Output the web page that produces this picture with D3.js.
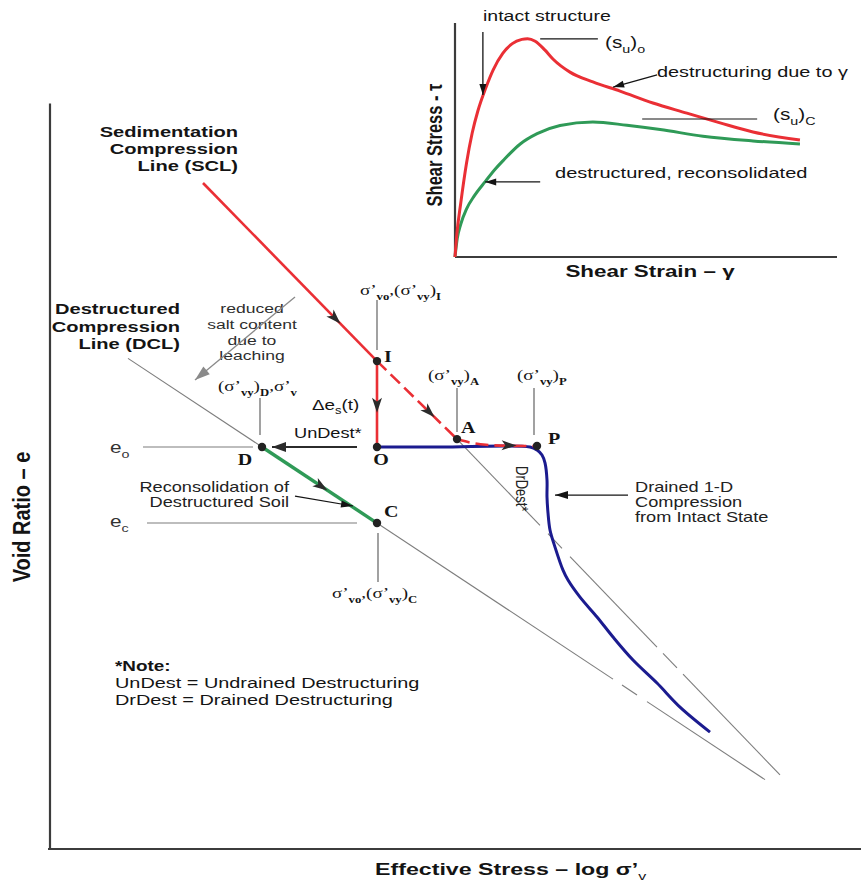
<!DOCTYPE html>
<html>
<head>
<meta charset="utf-8">
<script src="https://cdn.jsdelivr.net/npm/d3@7"></script>
<style>
  html, body { margin: 0; padding: 0; background: #fff; }
  svg { display: block; }
</style>
</head>
<body>
<svg id="chart" width="861" height="882"></svg>
<script>
// ---------- e – log σ'v diagram (x: log10 σ'v, y: void ratio e) ----------
const keyPoints = [
  { id: "I", s: 1.635, e: 1.970 },
  { id: "O", s: 1.635, e: 1.623 },
  { id: "A", s: 2.035, e: 1.655 },
  { id: "P", s: 2.435, e: 1.627 },
  { id: "D", s: 1.060, e: 1.623 },
  { id: "C", s: 1.635, e: 1.316 }
];
const eO = 1.623;   // e_o
const eC = 1.316;   // e_c

const sclPoints = [[0.765, 2.689], [1.635, 1.970]];                 // SCL down to I
const leachPoints = [[1.635, 1.970], [1.635, 1.623]];               // I → O, Δe_s(t)
const yieldToA = [[1.635, 1.970], [2.035, 1.655]];                  // I → A (dashed)
const yieldToP = [[2.035, 1.655], [2.10, 1.641], [2.18, 1.632],
                  [2.30, 1.628], [2.435, 1.627]];                   // A → P (dashed)
const reconPoints = [[1.060, 1.623], [1.635, 1.316]];               // D → C
const drainedPoints = [
  [1.635, 1.623], [1.95, 1.623], [2.40, 1.623], [2.435, 1.611], [2.46, 1.591],
  [2.475, 1.559], [2.485, 1.490], [2.485, 1.421], [2.49, 1.357], [2.50, 1.288],
  [2.525, 1.219], [2.565, 1.126], [2.59, 1.086], [2.65, 1.017], [2.735, 0.937],
  [2.815, 0.856], [2.915, 0.763], [3.035, 0.670], [3.15, 0.573], [3.30, 0.472]
];
const dclEnds = [[0.39, 1.981], [3.575, 0.280]];                    // destructured compression line
const dclRuns = [[0.39, 2.815], [2.86, 2.935], [2.985, 3.575]];
const intactEnds = [[2.035, 1.655], [3.65, 0.299]];                 // line through A
const intactRuns = [[2.035, 2.45], [2.49, 2.56], [2.60, 3.035], [3.065, 3.135], [3.165, 3.65]];

// ---------- inset: shear stress vs shear strain ----------
const intactCurve = [
  [0, 0], [0.005, 0.10], [0.015, 0.23], [0.03, 0.40], [0.045, 0.53], [0.06, 0.625],
  [0.08, 0.72], [0.10, 0.80], [0.125, 0.87], [0.15, 0.912], [0.175, 0.93], [0.19, 0.933],
  [0.21, 0.922], [0.235, 0.885], [0.257, 0.845], [0.301, 0.790], [0.361, 0.748],
  [0.432, 0.709], [0.518, 0.658], [0.607, 0.615], [0.694, 0.573], [0.780, 0.534], [0.903, 0.500]
];
const destructuredCurve = [
  [0, 0], [0.006, 0.08], [0.015, 0.14], [0.03, 0.205], [0.05, 0.26], [0.079, 0.322],
  [0.105, 0.375], [0.126, 0.412], [0.170, 0.482], [0.215, 0.527], [0.275, 0.562],
  [0.361, 0.577], [0.450, 0.563], [0.537, 0.545], [0.649, 0.516], [0.780, 0.496], [0.903, 0.483]
];

// ---------- styling ----------
const RED = "#ea2f35", GREEN = "#2f9a57", BLUE = "#1b1b8f";
const THIN = "#7d7d7d", AXIS = "#3c3c3c", INK = "#141414";
const SANS = "'Liberation Sans', Arial, Helvetica, sans-serif";
const SERIF = "'Liberation Serif', 'Times New Roman', serif";
const SX = 1.3;   // horizontal glyph stretch

const svg = d3.select("#chart");
const X = d3.scaleLinear().domain([0, 4]).range([50, 850]);
const Y = d3.scaleLinear().domain([0, 3]).range([849, 106]);
const IX = d3.scaleLinear().domain([0, 1]).range([455, 837]);
const IY = d3.scaleLinear().domain([0, 1]).range([257, 23]);

const lineXY = d3.line().x(d => X(d[0])).y(d => Y(d[1]));
const lineI = d3.line().x(d => IX(d[0])).y(d => IY(d[1])).curve(d3.curveMonotoneX);

function label(parent, x, y, parts, o = {}) {
  const size = o.size || 14;
  const t = parent.append("text")
    .attr("transform", `translate(${x},${y}) scale(${o.sx ?? SX},1)` + (o.rotate ? ` rotate(${o.rotate})` : ""))
    .attr("text-anchor", o.anchor || "start")
    .attr("font-family", o.family || SANS)
    .attr("font-size", size)
    .attr("font-weight", o.weight || "normal")
    .attr("fill", o.fill || INK);
  let shift = 0;
  (typeof parts === "string" ? [parts] : parts).forEach(p => {
    const seg = typeof p === "string" ? { t: p } : p;
    const want = seg.sub ? Math.round(size * 0.3) : 0;
    const ts = t.append("tspan").text(seg.t).attr("dy", want - shift);
    shift = want;
    if (seg.sub) ts.attr("font-size", seg.size || Math.round(size * 0.68));
    if (seg.weight) ts.attr("font-weight", seg.weight);
    if (seg.family) ts.attr("font-family", seg.family);
  });
  return t;
}

function head(parent, x, y, ang, o = {}) {
  const L = o.len || 15, W = o.wid || 10, notch = o.notch ?? 0.25;
  parent.append("path")
    .attr("d", `M0,0 L${-L},${-W / 2} L${-L * (1 - notch)},0 L${-L},${W / 2} Z`)
    .attr("transform", `translate(${x},${y}) rotate(${ang * 180 / Math.PI})`)
    .attr("fill", o.fill || "#2b2b2b");
}

// arrowhead placed along a straight data segment
function flowArrow(parent, a, b, t, scaleX, scaleY, o) {
  const x0 = scaleX(a[0]), y0 = scaleY(a[1]), x1 = scaleX(b[0]), y1 = scaleY(b[1]);
  head(parent, x0 + (x1 - x0) * t, y0 + (y1 - y0) * t, Math.atan2(y1 - y0, x1 - x0), o);
}

// pointer line with a head at its end
function pointer(parent, a, b, scaleX, scaleY, o = {}) {
  const x0 = scaleX(a[0]), y0 = scaleY(a[1]), x1 = scaleX(b[0]), y1 = scaleY(b[1]);
  parent.append("line").attr("x1", x0).attr("y1", y0).attr("x2", x1).attr("y2", y1)
    .attr("stroke", o.stroke || INK).attr("stroke-width", o.width || 1.2);
  head(parent, x1, y1, Math.atan2(y1 - y0, x1 - x0), { len: o.len || 11, wid: o.wid || 7, notch: 0, fill: o.stroke || INK });
}

function runs(parent, ends, pieces) {
  const [p0, p1] = ends;
  const at = s => p0[1] + (p1[1] - p0[1]) * (s - p0[0]) / (p1[0] - p0[0]);
  parent.selectAll(null).data(pieces).join("line")
    .attr("x1", d => X(d[0])).attr("y1", d => Y(at(d[0])))
    .attr("x2", d => X(d[1])).attr("y2", d => Y(at(d[1])))
    .attr("stroke", THIN).attr("stroke-width", 1.1);
}

// ---------- main axes ----------
const main = svg.append("g");
main.append("line").attr("x1", X(0)).attr("y1", Y(0)).attr("x2", X(0)).attr("y2", Y(3.01))
  .attr("stroke", AXIS).attr("stroke-width", 2.2);
main.append("line").attr("x1", X(-0.01)).attr("y1", Y(0)).attr("x2", X(4.06)).attr("y2", Y(0))
  .attr("stroke", AXIS).attr("stroke-width", 2.2);
label(main, 30, 517, "Void Ratio – e", { rotate: -90, anchor: "middle", size: 20, weight: "bold", sx: 1.2 });
label(main, 375, 875, ["Effective Stress – log σ’", { t: "v", sub: true, weight: "normal" }],
  { size: 16, weight: "bold", sx: 1.45 });

// ---------- reference lines ----------
runs(main, dclEnds, dclRuns);
runs(main, intactEnds, intactRuns);

// e_o, e_c levels and stress leaders
const hLeaders = [[0.465, 1.015, eO], [0.485, 1.535, eC]];
main.selectAll(null).data(hLeaders).join("line")
  .attr("x1", d => X(d[0])).attr("x2", d => X(d[1]))
  .attr("y1", d => Y(d[2])).attr("y2", d => Y(d[2]))
  .attr("stroke", THIN).attr("stroke-width", 1.1);
const vLeaders = [[1.635, 2.015, 2.217], [2.035, 1.684, 1.861], [2.42, 1.672, 1.861],
                  [1.05, 1.672, 1.821], [1.64, 1.078, 1.276]];
main.selectAll(null).data(vLeaders).join("line")
  .attr("x1", d => X(d[0])).attr("x2", d => X(d[0]))
  .attr("y1", d => Y(d[1])).attr("y2", d => Y(d[2]))
  .attr("stroke", "#555").attr("stroke-width", 1.1);

// ---------- paths ----------
main.append("path").datum(drainedPoints)
  .attr("d", lineXY.curve(d3.curveCatmullRom.alpha(0.5)))
  .attr("fill", "none").attr("stroke", BLUE).attr("stroke-width", 3);
main.append("path").datum(sclPoints).attr("d", lineXY.curve(d3.curveLinear))
  .attr("fill", "none").attr("stroke", RED).attr("stroke-width", 2.6);
main.append("path").datum(leachPoints).attr("d", lineXY.curve(d3.curveLinear))
  .attr("fill", "none").attr("stroke", RED).attr("stroke-width", 2.6);
main.append("path").datum(yieldToA).attr("d", lineXY.curve(d3.curveLinear))
  .attr("fill", "none").attr("stroke", RED).attr("stroke-width", 2.6).attr("stroke-dasharray", "13,6");
main.append("path").datum(yieldToP).attr("d", lineXY.curve(d3.curveMonotoneX))
  .attr("fill", "none").attr("stroke", RED).attr("stroke-width", 2.6).attr("stroke-dasharray", "13,6");
main.append("path").datum(reconPoints).attr("d", lineXY.curve(d3.curveLinear))
  .attr("fill", "none").attr("stroke", GREEN).attr("stroke-width", 3.4);

// direction arrows
flowArrow(main, sclPoints[0], sclPoints[1], 0.79, X, Y);
flowArrow(main, leachPoints[0], leachPoints[1], 0.6, X, Y);
flowArrow(main, yieldToA[0], yieldToA[1], 0.72, X, Y);
flowArrow(main, yieldToP[2], yieldToP[4], 0.6, X, Y);
flowArrow(main, reconPoints[0], reconPoints[1], 0.57, X, Y);
pointer(main, [1.535, eO], [1.11, eO], X, Y, { stroke: "#2b2b2b", width: 2, len: 14, wid: 10 });

// state points
main.selectAll(null).data(keyPoints).join("circle")
  .attr("cx", d => X(d.s)).attr("cy", d => Y(d.e)).attr("r", 4.2).attr("fill", "#222");
const letterPos = { I: [7, 1, "start"], O: [4, 18, "middle"], A: [4, -6, "start"],
                    P: [11, -2, "start"], D: [-17, 18, "middle"], C: [7, -6, "start"] };
keyPoints.forEach(p => {
  const [dx, dy, anc] = letterPos[p.id];
  label(main, X(p.s) + dx, Y(p.e) + dy, p.id, { family: SERIF, weight: "bold", size: 16, anchor: anc, sx: 1.25 });
});

// ---------- main annotations ----------
const bold15 = { size: 15, weight: "bold", anchor: "end", sx: 1.34 };
label(main, 238, 137, "Sedimentation", bold15);
label(main, 238, 154, "Compression", bold15);
label(main, 238, 171, "Line (SCL)", bold15);
label(main, 180, 314, "Destructured", bold15);
label(main, 180, 332, "Compression", bold15);
label(main, 180, 349, "Line (DCL)", bold15);

const salt = { size: 13.5, anchor: "middle", fill: "#2e2e2e" };
label(main, 252, 313, "reduced", salt);
label(main, 252, 329, "salt content", salt);
label(main, 252, 345, "due to", salt);
label(main, 252, 360, "leaching", salt);
pointer(main, [1.225, 2.229], [0.725, 1.894], X, Y, { stroke: "#8a8a8a", width: 1.3, len: 15, wid: 10 });

const sig = { family: SERIF, size: 15, sx: 1.27 };
const sb = t => ({ t, sub: true, weight: "bold" });
label(main, 360, 295, ["σ’", sb("vo"), ",(σ’", sb("vy"), ")", sb("I")], sig);
label(main, 428, 380, ["(σ’", sb("vy"), ")", sb("A")], sig);
label(main, 517, 380, ["(σ’", sb("vy"), ")", sb("P")], sig);
label(main, 218, 391, ["(σ’", sb("vy"), ")", sb("D"), ",σ’", sb("v")], sig);
label(main, 332, 598, ["σ’", sb("vo"), ",(σ’", sb("vy"), ")", sb("C")], sig);

label(main, 312, 410, ["Δe", { t: "s", sub: true }, "(t)"], { size: 14.5 });
label(main, 294, 438, "UnDest*", { size: 14 });
label(main, 110, 453, ["e", { t: "o", sub: true }], { size: 16, fill: "#333" });
label(main, 110, 527, ["e", { t: "c", sub: true }], { size: 16, fill: "#333" });

label(main, 289, 492, "Reconsolidation of", { size: 14, anchor: "end", fill: "#222" });
label(main, 289, 507, "Destructured Soil", { size: 14, anchor: "end", fill: "#222" });
pointer(main, [1.225, 1.425], [1.515, 1.385], X, Y, { width: 1.2, len: 12, wid: 7 });

label(main, 516, 466, "DrDest*", { size: 13, rotate: 90, sx: 1.2, fill: "#222" });
label(main, 635, 492, "Drained 1-D", { size: 14, fill: "#222" });
label(main, 635, 507, "Compression", { size: 14, fill: "#222" });
label(main, 635, 522, "from Intact State", { size: 14, fill: "#222" });
pointer(main, [2.89, 1.429], [2.525, 1.429], X, Y, { width: 1.2, len: 13, wid: 8 });

label(main, 115, 671, "*Note:", { size: 14, weight: "bold", sx: 1.35 });
label(main, 115, 688, "UnDest = Undrained Destructuring", { size: 14, sx: 1.42 });
label(main, 115, 705, "DrDest = Drained Destructuring", { size: 14, sx: 1.42 });

// ---------- inset ----------
const inset = svg.append("g");
inset.append("line").attr("x1", IX(0)).attr("y1", IY(0)).attr("x2", IX(0)).attr("y2", IY(1))
  .attr("stroke", AXIS).attr("stroke-width", 2.2);
inset.append("line").attr("x1", IX(0)).attr("y1", IY(0)).attr("x2", IX(1)).attr("y2", IY(0))
  .attr("stroke", AXIS).attr("stroke-width", 2.2);
inset.append("path").datum(destructuredCurve).attr("d", lineI)
  .attr("fill", "none").attr("stroke", GREEN).attr("stroke-width", 3);
inset.append("path").datum(intactCurve).attr("d", lineI)
  .attr("fill", "none").attr("stroke", RED).attr("stroke-width", 3);

label(inset, 650, 277, "Shear Strain – γ", { size: 16, weight: "bold", anchor: "middle", sx: 1.4 });
label(inset, 442, 145, "Shear Stress - τ", { size: 16.5, weight: "bold", anchor: "middle", rotate: -90, sx: 1.3 });

label(inset, 483, 21, "intact structure", { size: 15 });
pointer(inset, [0.073, 0.962], [0.073, 0.692], IX, IY, { width: 1.3 });
inset.selectAll(null).data([[0.223, 0.374, 0.932], [0.490, 0.791, 0.590]]).join("line")
  .attr("x1", d => IX(d[0])).attr("x2", d => IX(d[1]))
  .attr("y1", d => IY(d[2])).attr("y2", d => IY(d[2]))
  .attr("stroke", INK).attr("stroke-width", 1.1);
label(inset, 605, 48, ["(s", { t: "u", sub: true }, ")", { t: "o", sub: true }], { size: 16, sx: 1.3 });
label(inset, 773, 120, ["(s", { t: "u", sub: true }, ")", { t: "C", sub: true }], { size: 16, sx: 1.3 });
label(inset, 657, 77, "destructuring due to γ", { size: 14.5, sx: 1.37 });
pointer(inset, [0.529, 0.778], [0.414, 0.726], IX, IY, { width: 1.2 });
label(inset, 555, 178, "destructured, reconsolidated", { size: 14.5, sx: 1.38 });
pointer(inset, [0.223, 0.321], [0.079, 0.321], IX, IY, { width: 1.2 });
</script>
</body>
</html>
